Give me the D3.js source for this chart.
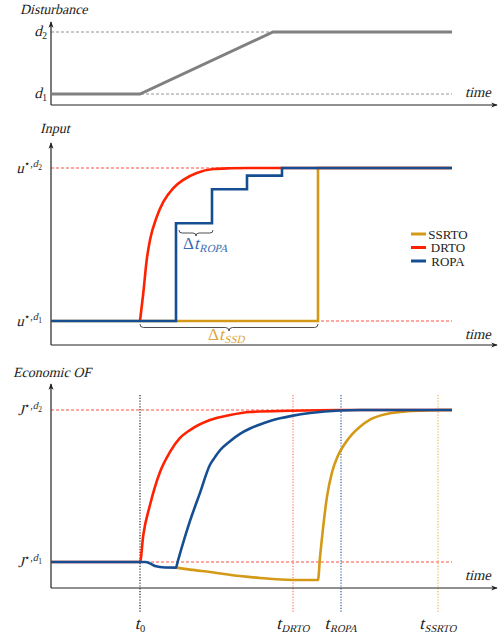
<!DOCTYPE html>
<html>
<head>
<meta charset="utf-8">
<script src="https://cdn.jsdelivr.net/npm/d3@7"></script>
<style>
  body { margin: 0; background: #fff; }
  text { font-family: "Liberation Serif", "DejaVu Serif", serif; }
</style>
</head>
<body>
<div class="chart"></div>
<script>
// time axis (t0 = 0), values normalised: 0 = old optimum, 1 = new optimum
var tStart = -8.9, tEnd = 31.2, tAxisEnd = 35.7;

// disturbance
var distT = [tStart, 0, 13.3, tEnd];
var distV = [0, 0, 1, 1];

// input trajectories
var uDrtoT = [0, 0.33, 0.67, 1.0, 1.67, 2.33, 3.33, 4.33, 5.67, 7.33, 9, 11, tEnd];
var uDrtoV = [0, 0.183, 0.399, 0.529, 0.68, 0.778, 0.869, 0.922, 0.967, 0.993, 0.998, 1, 1];
var uRopaT = [tStart, 3.6, 7.2, 10.7, 14.2, tEnd];
var uRopaV = [0, 0.639, 0.861, 0.95, 1, 1];
var uSsrtoT = [tStart, 17.8, tEnd];
var uSsrtoV = [0, 1, 1];

// economic objective
var jDrtoT = [tStart, 0, 0.33, 1, 2, 3, 4, 5, 7, 9, 11, 15, 20, tEnd];
var jDrtoV = [0, 0, 0.178, 0.375, 0.592, 0.724, 0.816, 0.868, 0.934, 0.967, 0.987, 0.995, 1, 1];
var jRopaT = [tStart, 0, 0.5, 1, 1.5, 2.5, 3.6, 3.75, 5, 6, 7, 7.5, 8, 9, 10, 11, 12, 13, 14, 15.3, 17, 20, 22, tEnd];
var jRopaV = [0, 0, 0, -0.009, -0.026, -0.036, -0.037, -0.002, 0.27, 0.455, 0.64, 0.69, 0.735, 0.795, 0.843, 0.878, 0.905, 0.927, 0.945, 0.963, 0.98, 0.997, 1, 1];
var jSsrtoT = [3.6, 5, 7, 10, 12, 15.3, 17.8, 18, 18.3, 18.7, 19.2, 19.8, 20.5, 21.2, 22, 23, 24, 25, 26, 28, 30, tEnd];
var jSsrtoV = [-0.037, -0.05, -0.066, -0.092, -0.105, -0.118, -0.118, 0.03, 0.22, 0.43, 0.59, 0.7, 0.78, 0.84, 0.89, 0.937, 0.963, 0.978, 0.987, 0.996, 1, 1];

// settling times
var markNames = ["0", "DRTO", "ROPA", "SSRTO"];
var markT = [0, 15.3, 20.1, 29.8];
var markColor = ["#111", "#ff6a5a", "#1b4f8f", "#e8b040"];

var cSsrto = "#d49a17", cDrto = "#ff2200", cRopa = "#164e92";

var svg = d3.select(".chart").append("svg")
    .attr("width", 503)
    .attr("height", 634);

var defs = svg.append("defs");
defs.append("marker")
    .attr("id", "arr")
    .attr("viewBox", "0 0 10 10")
    .attr("refX", 8).attr("refY", 5)
    .attr("markerWidth", 6).attr("markerHeight", 6)
    .attr("orient", "auto")
    .append("path")
    .attr("d", "M0,1.5 L9,5 L0,8.5 L2.5,5 Z")
    .attr("fill", "#222");

var x = d3.scaleLinear().domain([tStart, tEnd]).range([51, 452]);

var y1 = d3.scaleLinear().domain([0, 1]).range([94, 32]);
var y2 = d3.scaleLinear().domain([0, 1]).range([321, 168]);
var y3 = d3.scaleLinear().domain([0, 1]).range([562, 410]);

function zip(ts, vs) {
    return ts.map(function (t, i) { return [t, vs[i]]; });
}

function axes(yTop, yBottom) {
    svg.append("line")
        .attr("x1", x(tStart)).attr("x2", x(tStart))
        .attr("y1", yBottom).attr("y2", yTop)
        .attr("stroke", "#222").attr("stroke-width", 1.2)
        .attr("marker-end", "url(#arr)");
    svg.append("line")
        .attr("x1", x(tStart)).attr("x2", x(tAxisEnd))
        .attr("y1", yBottom).attr("y2", yBottom)
        .attr("stroke", "#222").attr("stroke-width", 1.2)
        .attr("marker-end", "url(#arr)");
}

function hline(ys, v, color, from) {
    svg.append("line")
        .attr("x1", x(from)).attr("x2", x(tEnd))
        .attr("y1", ys(v)).attr("y2", ys(v))
        .attr("stroke", color).attr("stroke-width", 0.9)
        .attr("stroke-dasharray", "3,2");
}

function curve(ys, ts, vs, color, w, c) {
    svg.append("path")
        .datum(zip(ts, vs))
        .attr("fill", "none")
        .attr("stroke", color)
        .attr("stroke-width", w)
        .attr("d", d3.line()
            .x(function (d) { return x(d[0]); })
            .y(function (d) { return ys(d[1]); })
            .curve(c));
}

// math-like label built from pieces: [text, size, dy, italic]
// italic pieces are slanted regular serif glyphs
function rich(xp, yp, parts, anchor, color) {
    var g = svg.append("g");
    var cx = 0;
    parts.forEach(function (p) {
        var t = g.append("text")
            .attr("font-size", p[1])
            .attr("fill", color || "#222")
            .text(p[0]);
        var w = t.node().getComputedTextLength();
        if (p[3]) {
            t.attr("transform", "translate(" + cx + "," + p[2] + ") skewX(-14)");
        } else {
            t.attr("x", cx).attr("y", p[2]);
        }
        cx += w + (p[3] ? p[1] * 0.04 : 0);
    });
    var shift = anchor === "end" ? -cx : anchor === "middle" ? -cx / 2 : 0;
    g.attr("transform", "translate(" + (xp + shift) + "," + yp + ")");
    return g;
}

function brace(x1, x2, yb, h) {
    var xm = (x1 + x2) / 2, r = h / 2;
    return "M" + x1 + "," + yb +
        " q0," + r + " " + r + "," + r +
        " L" + (xm - r) + "," + (yb + r) +
        " q" + r + ",0 " + r + "," + r +
        " q0," + (-r) + " " + r + "," + (-r) +
        " L" + (x2 - r) + "," + (yb + r) +
        " q" + r + ",0 " + r + "," + (-r);
}

function starLabel(ys, v, base, sub) {
    rich(42, ys(v) + 5, [[base, 15, 0, true], ["\u22C6,", 10, -6, false],
        ["d", 10, -6, true], [sub, 7.5, -3.5, false]], "end");
}

function title(xp, yp, txt) {
    rich(xp, yp, [[txt, 14, 0, true]], "start");
}

function timeLabel(yp) {
    rich(465, yp, [["time", 14.5, 0, true]], "start");
}

// ---------- Panel 1: disturbance ----------
title(20, 14, "Disturbance");
hline(y1, 1, "#888", tStart);
hline(y1, 0, "#888", tStart);
axes(22, 105);
curve(y1, distT, distV, "#808080", 3, d3.curveLinear);
timeLabel(97);

rich(47, y1(1) + 4, [["d", 15, 0, true], ["2", 9.5, 3, false]], "end");
rich(47, y1(0) + 4, [["d", 15, 0, true], ["1", 9.5, 3, false]], "end");

// ---------- Panel 2: input ----------
title(40, 133, "Input");
hline(y2, 1, "#ff3b2f", tStart);
hline(y2, 0, "#ff3b2f", tStart);
axes(143, 345);
timeLabel(339);

curve(y2, uSsrtoT, uSsrtoV, cSsrto, 2.6, d3.curveStepAfter);
curve(y2, uDrtoT, uDrtoV, cDrto, 2.6, d3.curveMonotoneX);
curve(y2, uRopaT, uRopaV, cRopa, 2.6, d3.curveStepAfter);

starLabel(y2, 1, "u", "2");
starLabel(y2, 0, "u", "1");

// braces
svg.append("path")
    .attr("d", brace(x(uRopaT[1]) + 3, x(uRopaT[2]) + 1, 230, 6))
    .attr("fill", "none").attr("stroke", "#222").attr("stroke-width", 0.8);
rich(183, 249, [["\u0394", 17, 0, false], ["t", 17, 0, true], ["ROPA", 11, 3, true]],
    "start", "#3a6cb2");

svg.append("path")
    .attr("d", brace(x(0), x(uSsrtoT[1]), 324, 7))
    .attr("fill", "none").attr("stroke", "#222").attr("stroke-width", 0.8);
rich(208, 340, [["\u0394", 17, 0, false], ["t", 17, 0, true], ["SSD", 11, 3, true]],
    "start", "#dca63c");

// legend
var legNames = ["SSRTO", "DRTO", "ROPA"];
var legColors = [cSsrto, cDrto, cRopa];
legNames.forEach(function (n, i) {
    var yy = 234 + i * 13.5;
    svg.append("line")
        .attr("x1", 411).attr("x2", 426)
        .attr("y1", yy).attr("y2", yy)
        .attr("stroke", legColors[i]).attr("stroke-width", 3);
    svg.append("text")
        .attr("x", 448).attr("y", yy + 4.5)
        .attr("text-anchor", "middle")
        .attr("font-size", 13)
        .attr("fill", "#222")
        .text(n);
});

// ---------- Panel 3: economic OF ----------
title(13, 377, "Economic OF");
hline(y3, 1, "#ff3b2f", tStart);
hline(y3, 0, "#ff3b2f", tStart);

markT.forEach(function (t, i) {
    svg.append("line")
        .attr("x1", x(t)).attr("x2", x(t))
        .attr("y1", 395).attr("y2", 612)
        .attr("stroke", markColor[i]).attr("stroke-width", 1.1)
        .attr("stroke-dasharray", "1.2,1.6");
    rich(x(t), 629, [["t", 17, 0, true], [markNames[i], 10.5, 3, i !== 0]], "middle");
});

axes(384, 588);
timeLabel(580);

curve(y3, jSsrtoT, jSsrtoV, cSsrto, 2.6, d3.curveMonotoneX);
curve(y3, jDrtoT, jDrtoV, cDrto, 2.6, d3.curveMonotoneX);
curve(y3, jRopaT, jRopaV, cRopa, 2.6, d3.curveMonotoneX);

starLabel(y3, 1, "J", "2");
starLabel(y3, 0, "J", "1");
</script>
</body>
</html>
